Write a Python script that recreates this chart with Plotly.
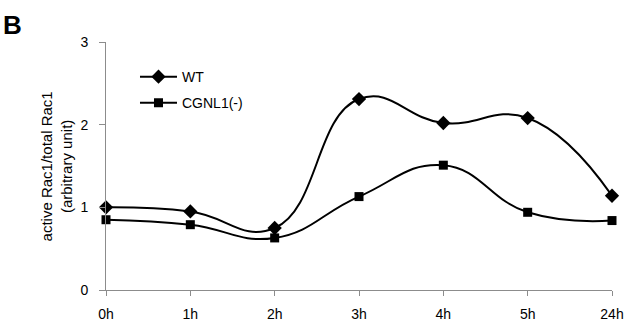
import plotly.graph_objects as go

categories = ["0h", "1h", "2h", "3h", "4h", "5h", "24h"]
wt_values = [1.00, 0.95, 0.75, 2.31, 2.02, 2.08, 1.14]
cgnl1_values = [0.85, 0.79, 0.63, 1.13, 1.51, 0.94, 0.84]
y_ticks = [0, 1, 2, 3]

FONT = "Liberation Sans, Arial, sans-serif"
x_idx = list(range(len(categories)))

fig = go.Figure()
fig.add_trace(go.Scatter(
    x=x_idx, y=wt_values, name="WT", mode="lines+markers",
    line=dict(color="black", width=2, shape="spline", smoothing=1.3),
    marker=dict(symbol="diamond", size=11, color="black"),
    cliponaxis=False, legend="legend"))
fig.add_trace(go.Scatter(
    x=x_idx, y=cgnl1_values, name="CGNL1(-)", mode="lines+markers",
    line=dict(color="black", width=2, shape="spline", smoothing=1.3),
    marker=dict(symbol="square", size=9, color="black"),
    cliponaxis=False, legend="legend2"))

fig.update_layout(
    width=631, height=322,
    margin=dict(l=106, r=19, t=42, b=32, pad=0),
    paper_bgcolor="white", plot_bgcolor="white",
    font=dict(family=FONT, size=14, color="black"),
    showlegend=True,
    legend=dict(x=0.0573, y=0.8586, xanchor="left", yanchor="middle",
                bgcolor="rgba(0,0,0,0)", font=dict(size=14), itemwidth=37),
    legend2=dict(x=0.0573, y=0.7535, xanchor="left", yanchor="middle",
                 bgcolor="rgba(0,0,0,0)", font=dict(size=14), itemwidth=37),
    xaxis=dict(
        range=[0, 6], tickmode="array", tickvals=x_idx, ticktext=categories,
        showgrid=False, zeroline=False, showline=True, linecolor="#8c8c8c",
        linewidth=1, ticks="outside", ticklen=5, tickcolor="#8c8c8c",
        tickfont=dict(size=14), ticklabelstandoff=6,
        fixedrange=True, automargin=False),
    yaxis=dict(
        range=[0, 3], tickmode="array", tickvals=y_ticks,
        showgrid=False, zeroline=False, showline=True, linecolor="#8c8c8c",
        linewidth=1, ticks="outside", ticklen=6, tickcolor="#8c8c8c",
        tickfont=dict(size=14), ticklabelstandoff=8,
        fixedrange=True, automargin=False),
)

fig.add_annotation(text="<b>B</b>", xref="paper", yref="paper",
                   x=-0.208, y=1.137, xanchor="left", yanchor="top",
                   showarrow=False, font=dict(size=26, family=FONT, color="black"))
fig.add_annotation(text="active Rac1/total Rac1<br>(arbitrary unit)",
                   xref="paper", yref="paper", x=-0.098, y=0.5,
                   xanchor="center", yanchor="middle", textangle=-90,
                   showarrow=False, font=dict(size=15, family=FONT, color="black"))

fig.write_html("out.html", config={"displayModeBar": False},
               post_script="document.body.style.margin='0';")
